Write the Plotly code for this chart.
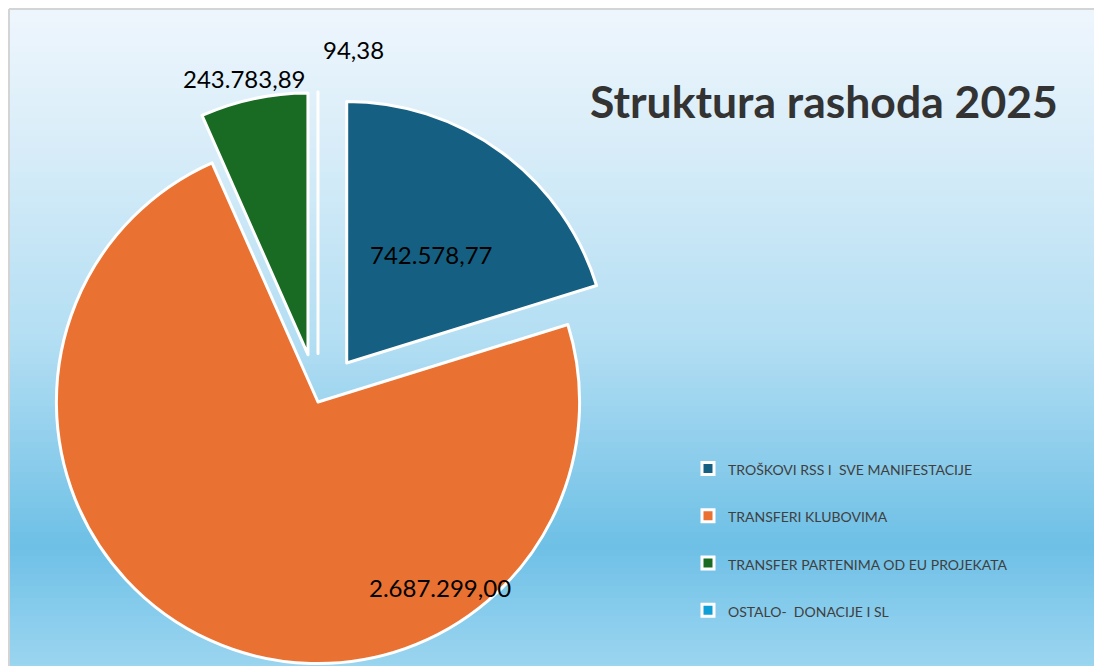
import math
import plotly.graph_objects as go

# ---- data ----
categories = [
    "TROŠKOVI RSS I  SVE MANIFESTACIJE",
    "TRANSFERI KLUBOVIMA",
    "TRANSFER PARTENIMA OD EU PROJEKATA",
    "OSTALO-  DONACIJE I SL",
]
values = [742578.77, 2687299.00, 243783.89, 94.38]
slice_colors = ["#156082", "#E97132", "#196B24", "#0F9ED5"]
pulls = [0.185, 0.0, 0.185, 0.185]
title_text = "Struktura rashoda 2025"

# label placement style: angle offset from slice bisector (deg) and distance (in radii)
label_angle_offset = [1.0, -57.8, -1.0, 5.7]
label_radius = [0.71, 0.85, 1.27, 1.355]

# figure size (the chart area is larger than the visible window, as in the original)
W, H = 1102, 720
FONT = "Lato"

# pie domain in pixels (figure coordinates)
PIE_CX, PIE_CY, PIE_SIZE = 310, 394, 620
DOM_X = [(PIE_CX - PIE_SIZE / 2) / W, (PIE_CX + PIE_SIZE / 2) / W]
DOM_Y = [1 - (PIE_CY + PIE_SIZE / 2) / H, 1 - (PIE_CY - PIE_SIZE / 2) / H]

# background gradient stops (pixel y from top, colour)
grad_stops = [
    (0, (0xEF, 0xF6, 0xFD)),
    (122, (0xDB, 0xEE, 0xF9)),
    (332, (0xB3, 0xDE, 0xF3)),
    (537, (0x6E, 0xC0, 0xE6)),
    (660, (0x9C, 0xD5, 0xF0)),
    (720, (0xA8, 0xDA, 0xF2)),
]


def grad_color(y):
    for (t0, c0), (t1, c1) in zip(grad_stops[:-1], grad_stops[1:]):
        if t0 <= y <= t1:
            f = (y - t0) / (t1 - t0) if t1 > t0 else 0
            return "rgb(%d,%d,%d)" % tuple(round(a + (b - a) * f) for a, b in zip(c0, c1))
    return "rgb(%d,%d,%d)" % grad_stops[-1][1]


shapes = []
band = 6
y = 2
while y < H:
    y2 = min(y + band, H)
    shapes.append(dict(
        type="rect", xref="paper", yref="paper", layer="below",
        x0=2 / W, x1=1, y0=1 - (y2 + 0.6) / H, y1=1 - y / H,
        fillcolor=grad_color((y + y2) / 2), line=dict(width=0),
    ))
    y = y2
# chart-area border (left and top)
shapes.append(dict(type="line", xref="paper", yref="paper", layer="below",
                   x0=1 / W, x1=1 / W, y0=0, y1=1 - 1 / H,
                   line=dict(color="#D4D4D4", width=2)))
shapes.append(dict(type="line", xref="paper", yref="paper", layer="below",
                   x0=1 / W, x1=1, y0=1 - 1 / H, y1=1 - 1 / H,
                   line=dict(color="#D4D4D4", width=2)))


def fmt_eu(v):
    s = "{:,.2f}".format(v)
    return s.replace(",", "X").replace(".", ",").replace("X", ".")


# pie geometry (plotly: centre of domain, radius shrunk by the largest pull)
cx = W * (DOM_X[0] + DOM_X[1]) / 2
cy = H * (1 - (DOM_Y[0] + DOM_Y[1]) / 2)
r = min(W * (DOM_X[1] - DOM_X[0]), H * (DOM_Y[1] - DOM_Y[0])) / (2 * (1 + max(pulls)))

total = sum(values)
annotations = []
cum = 0.0
for v, da, rf in zip(values, label_angle_offset, label_radius):
    a0 = 360 * cum / total
    cum += v
    a1 = 360 * cum / total
    th = math.radians((a0 + a1) / 2 + da)
    px = cx + rf * r * math.sin(th)
    py = cy - rf * r * math.cos(th)
    annotations.append(dict(
        text=fmt_eu(v), xref="paper", yref="paper", x=px / W, y=1 - py / H,
        xanchor="center", yanchor="middle", showarrow=False,
        font=dict(family=FONT, size=24, color="black"),
    ))

annotations.append(dict(
    text="<b>" + title_text + "</b>", xref="paper", yref="paper",
    x=1052 / W, y=1 - 93 / H, xanchor="right", yanchor="middle",
    showarrow=False, font=dict(family=FONT, size=44.5, color="#333333"),
))

legend_labels = ["<span style='font-size:14px'>" + c + "</span><br> " for c in categories]

fig = go.Figure(go.Pie(
    labels=legend_labels,
    values=values,
    sort=False,
    direction="clockwise",
    rotation=0,
    pull=pulls,
    marker=dict(colors=slice_colors, line=dict(color="white", width=3)),
    textinfo="none",
    hoverinfo="none",
    automargin=False,
    domain=dict(x=DOM_X, y=DOM_Y),
))

fig.update_layout(
    width=W, height=H,
    margin=dict(l=0, r=0, t=0, b=0, autoexpand=False),
    paper_bgcolor="white",
    plot_bgcolor="rgba(0,0,0,0)",
    shapes=shapes,
    showlegend=True,
    legend=dict(
        x=680 / W, y=1 - 443 / H, xanchor="left", yanchor="top",
        bgcolor="rgba(0,0,0,0)",
        font=dict(family=FONT, size=17, color="#404040"),
        valign="top",
        traceorder="normal",
    ),
    annotations=annotations,
)

fig.write_html("out.html")
